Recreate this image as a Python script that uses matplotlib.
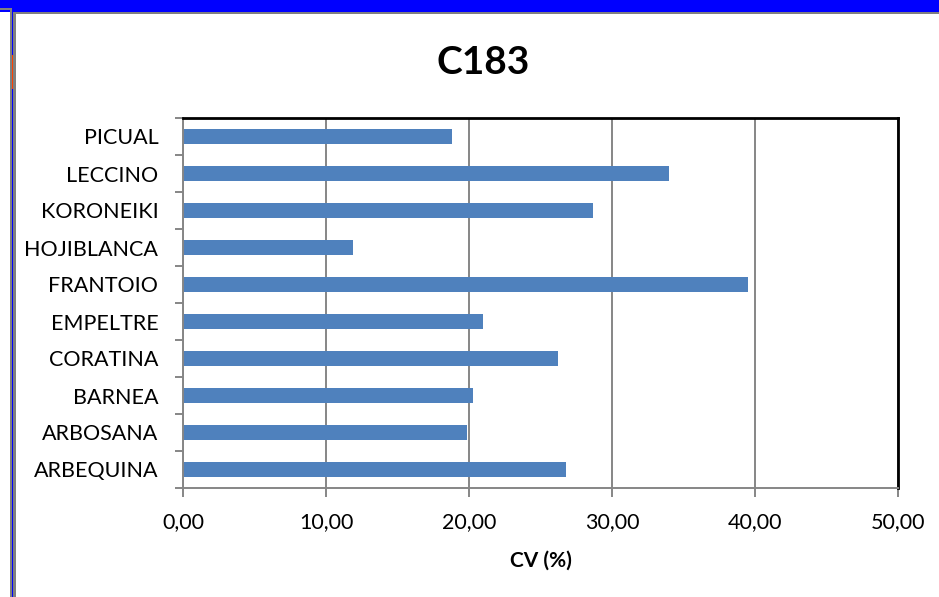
import numpy as np
import matplotlib.pyplot as plt
from matplotlib.patches import Rectangle
from matplotlib.ticker import FixedLocator, FuncFormatter, NullFormatter

plt.rcParams['font.family'] = ['Lato', 'DejaVu Sans']

cultivars = ['ARBEQUINA', 'ARBOSANA', 'BARNEA', 'CORATINA', 'EMPELTRE',
             'FRANTOIO', 'HOJIBLANCA', 'KORONEIKI', 'LECCINO', 'PICUAL']
cv = [26.76, 19.84, 20.26, 26.2, 20.96, 39.49, 11.9, 28.65, 33.97, 18.79]
xticks = [0, 10, 20, 30, 40, 50]

W, H = 939, 597
fig = plt.figure(figsize=(W / 100, H / 100), dpi=100)
fig.patch.set_facecolor('white')


def px_rect(x, y, w, h, color):
    # rectangle given in pixels from the top-left corner
    fig.add_artist(Rectangle((x / W, 1 - (y + h) / H), w / W, h / H,
                             transform=fig.transFigure, color=color, lw=0))


# window frame around the chart
px_rect(0, 0, W, 12, '#0000ff')
px_rect(0, 8, 10, 2, '#808080')
px_rect(13, 12, W - 13, 2, '#808080')
px_rect(10, 8, 2, H - 8, '#808080')
px_rect(12, 10, 1, H - 10, '#0000ff')
px_rect(12, 55, 1, 34, '#ff4000')
px_rect(13, 12, 3, H - 12, '#808080')

ax = fig.add_axes([183.3 / W, 1 - 488 / H, 715 / W, 370 / H])
y = np.arange(len(cultivars))
ax.barh(y, cv, height=0.4, color='#4F81BD', zorder=2)

ax.set_xlim(0, 50)
ax.set_ylim(-0.5, len(cultivars) - 0.5)
ax.set_xticks(xticks)
ax.xaxis.set_major_formatter(FuncFormatter(lambda v, p: f'{v:.2f}'.replace('.', ',')))
ax.grid(axis='x', color='#868686', lw=1.4, zorder=0)

ax.set_yticks(y)
ax.set_yticklabels(cultivars)
ax.yaxis.set_minor_locator(FixedLocator(np.arange(-0.5, len(cultivars), 1.0)))
ax.yaxis.set_minor_formatter(NullFormatter())
ax.tick_params(axis='y', which='major', length=0, pad=18, labelsize=15.5)
ax.tick_params(axis='y', which='minor', length=6, width=1.4, color='#868686')
ax.tick_params(axis='x', length=6.5, width=1.4, color='#868686', pad=11, labelsize=15.5)

for s in ('left', 'bottom'):
    ax.spines[s].set_color('#868686')
    ax.spines[s].set_linewidth(1.4)
for s in ('top', 'right'):
    ax.spines[s].set_color('black')
    ax.spines[s].set_linewidth(2)

ax.set_xlabel('CV (%)', fontsize=15, fontweight='bold', va='center')
ax.xaxis.set_label_coords(0.5, (488 - 561) / 370)
fig.text(483 / W, 1 - 62 / H, 'C183', ha='center', va='center',
         fontsize=28, fontweight='bold')

fig.savefig('out.png', dpi=100)
